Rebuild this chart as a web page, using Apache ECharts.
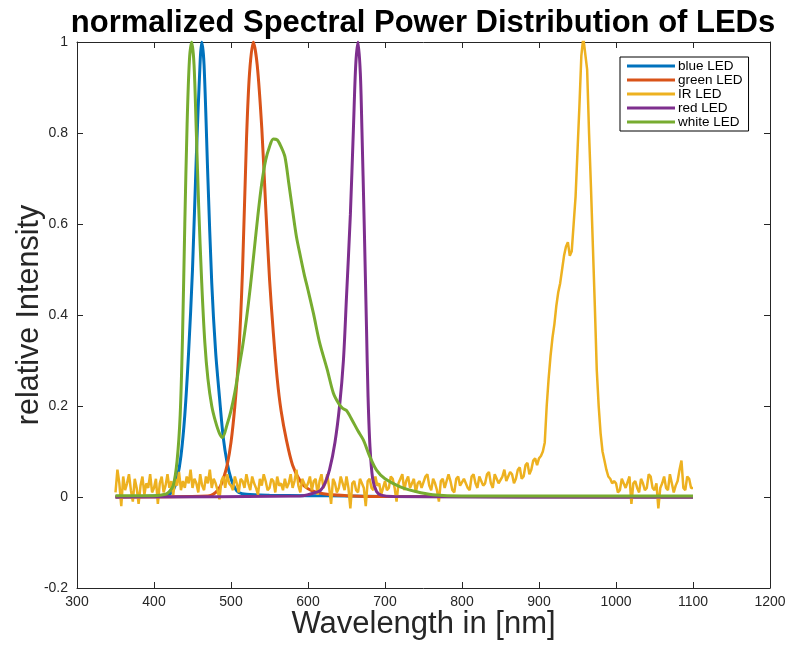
<!DOCTYPE html>
<html>
<head>
<meta charset="utf-8">
<script src="https://cdn.jsdelivr.net/npm/echarts@6/dist/echarts.min.js"></script>
<style>
  html, body { margin: 0; padding: 0; background: #fff; }
  #chart { width: 787px; height: 645px; }
</style>
</head>
<body>
<div id="chart"></div>
<script>
// wavelength [nm] / normalized intensity
const blueWl  = [350, 400, 420, 425, 430, 435, 440, 445, 450, 455, 460, 462, 465, 470, 475, 480, 485, 490, 495, 500, 505, 510, 520, 550, 600, 650, 700, 1100]
const blueVal = [0, 0.002, 0.006, 0.015, 0.04, 0.09, 0.18, 0.32, 0.5, 0.75, 0.96, 1.0, 0.95, 0.7, 0.47, 0.32, 0.22, 0.13, 0.075, 0.04, 0.02, 0.01, 0.006, 0.004, 0.003, 0.002, 0.001, 0]

const greenWl  = [350, 470, 480, 486, 490, 495, 500, 505, 510, 515, 520, 524, 529, 534, 540, 545, 550, 555, 560, 565, 572, 580, 590, 600, 620, 650, 700, 1100]
const greenVal = [0, 0.002, 0.01, 0.023, 0.04, 0.07, 0.12, 0.2, 0.31, 0.5, 0.78, 0.93, 1.0, 0.95, 0.81, 0.64, 0.48, 0.36, 0.26, 0.19, 0.125, 0.07, 0.035, 0.018, 0.007, 0.003, 0.001, 0]

const redWl  = [350, 590, 600, 610, 616, 622, 628, 635, 641, 646, 650, 655, 659, 662, 665, 668, 670, 673, 676, 678, 680.5, 684, 689, 695, 710, 1100]
const redVal = [0, 0.002, 0.005, 0.01, 0.014, 0.03, 0.06, 0.12, 0.2, 0.3, 0.44, 0.62, 0.81, 0.95, 1.0, 0.93, 0.81, 0.6, 0.37, 0.22, 0.11, 0.04, 0.012, 0.004, 0.001, 0]

const whiteWl  = [350, 400, 415, 420, 425, 430, 434, 437, 440, 443, 446, 449, 452, 455, 458, 462, 466, 470, 475, 480, 485, 489, 495, 500, 505, 510, 515, 520, 525, 530, 535, 540, 545, 550, 555, 560, 565, 570, 575, 580, 585, 590, 595, 600, 607, 615, 625, 633, 640, 645, 650, 657, 665, 672, 680, 689, 700, 719, 740, 762, 800, 1100]
const whiteVal = [0.003, 0.003, 0.006, 0.012, 0.025, 0.08, 0.18, 0.35, 0.6, 0.82, 0.96, 1.0, 0.95, 0.8, 0.64, 0.47, 0.34, 0.26, 0.2, 0.165, 0.14, 0.131, 0.16, 0.19, 0.23, 0.28, 0.33, 0.39, 0.46, 0.54, 0.62, 0.69, 0.74, 0.77, 0.787, 0.785, 0.77, 0.748, 0.69, 0.63, 0.572, 0.53, 0.49, 0.455, 0.404, 0.34, 0.28, 0.228, 0.205, 0.195, 0.19, 0.17, 0.145, 0.125, 0.09, 0.059, 0.04, 0.023, 0.012, 0.005, 0.002, 0.002]

// IR LED sampled every 2.5 nm from 350 to 1100
const irStart = 350
const irStep = 2.5
const irVal = [
  0.01, 0.06, 0.03, -0.02, 0.045, 0.015, 0.03, 0.05, 0.015, -0.01, 0.04, 0.02, -0.015, 0.025, 0.045, 0.005, 0.03, 0.02, 0.05, 0.01,
  0.02, 0.04, -0.015, 0.03, 0.045, 0.01, 0.025, 0.05, 0.02, 0.035, 0.005, 0.04, 0.025, 0.055, 0.015, 0.035, 0.02, 0.045, 0.03, 0.06,
  0.02, 0.04, 0.03, 0.01, 0.05, 0.025, 0.015, 0.045, 0.03, 0.06, 0.02, 0.04, 0.03, 0.015, -0.005, 0.035, 0.045, 0.02, 0.05, 0.03,
  0.025, 0.015, 0.045, 0.03, 0.01, 0.04, 0.035, 0.02, 0.05, 0.03, 0.015, 0.045, 0.03, 0.02, 0.005, 0.04, 0.025, 0.05, 0.035, 0.015,
  0.02, 0.04, 0.035, 0.01, 0.045, 0.025, 0.03, 0.015, 0.04, 0.02, 0.03, 0.05, 0.02, 0.035, 0.06, 0.025, 0.01, 0.04, 0.03, 0.02,
  0.03, 0.045, 0.015, 0.035, 0.04, 0.005, 0.035, 0.05, 0.02, 0.03, 0.05, 0.02, -0.015, 0.04, 0.03, 0.01, 0.02, 0.045, 0.03, 0.015,
  0.045, 0.02, -0.025, 0.03, 0.035, 0.015, 0.01, 0.04, 0.03, 0.02, -0.02, 0.035, 0.04, 0.02, 0.015, 0.045, 0.025, 0.03, 0.005, 0.02,
  0.035, 0.015, 0.02, 0.045, 0.04, 0.02, -0.01, 0.03, 0.03, 0.05, 0.015, 0.035, 0.045, 0.02, 0.02, 0.04, 0.01, 0.03, 0.035, 0.02,
  0.02, 0.045, 0.05, 0.025, 0.015, 0.04, 0.03, 0.015, -0.01, 0.035, 0.04, 0.02, 0.02, 0.05, 0.035, 0.015, 0.01, 0.04, 0.045, 0.025,
  0.025, 0.04, 0.04, 0.02, 0.015, 0.045, 0.05, 0.03, 0.02, 0.045, 0.035, 0.025, 0.03, 0.05, 0.055, 0.03, 0.02, 0.05, 0.04, 0.03,
  0.03, 0.045, 0.06, 0.035, 0.035, 0.055, 0.05, 0.03, 0.04, 0.06, 0.065, 0.04, 0.045, 0.07, 0.075, 0.05, 0.06, 0.08, 0.085, 0.07,
  0.085, 0.09, 0.1, 0.12, 0.2, 0.26, 0.31, 0.35, 0.38, 0.42, 0.45, 0.47, 0.5, 0.53, 0.55, 0.56, 0.53, 0.54, 0.6, 0.66,
  0.76, 0.86, 0.97, 1.01, 1.01, 0.94, 0.8, 0.68, 0.55, 0.42, 0.28, 0.2, 0.14, 0.1, 0.08, 0.06, 0.045, 0.04, 0.03, 0.035,
  0.03, 0.01, 0.015, 0.04, 0.04, 0.02, 0.02, 0.045, -0.015, 0.03, 0.035, 0.02, 0.01, 0.04, 0.03, 0.015, 0.02, 0.05, 0.045, 0.02,
  0.015, 0.03, -0.025, 0.02, 0.03, 0.045, 0.02, 0.015, 0.05, 0.03, 0.01, 0.025, 0.035, 0.06, 0.08, 0.02, 0.015, 0.045, 0.04, 0.02,
  0.02
]

const seriesNames = ['blue LED', 'green LED', 'IR LED', 'red LED', 'white LED']
const seriesColors = ['#0072BD', '#D95319', '#EDB120', '#7E2F8E', '#77AC30']

function zip(xs, ys) {
  return xs.map((x, i) => [x, ys[i]])
}

const irData = irVal.map((v, i) => [irStart + i * irStep, v])
const allData = [
  zip(blueWl, blueVal),
  zip(greenWl, greenVal),
  irData,
  zip(redWl, redVal),
  zip(whiteWl, whiteVal)
]

const font = 'Liberation Sans, Arial, Helvetica, sans-serif'
const axisColor = '#262626'

let chart = echarts.init(document.getElementById('chart'))

let xCommon = {
  type: 'value', min: 300, max: 1200, interval: 100,
  axisLine: { show: true, onZero: false, lineStyle: { color: axisColor, width: 1 } },
  axisTick: { show: true, inside: true, length: 6, lineStyle: { color: axisColor } },
  splitLine: { show: false }
}
let yCommon = {
  type: 'value', min: -0.2, max: 1, interval: 0.2,
  axisLine: { show: true, onZero: false, lineStyle: { color: axisColor, width: 1 } },
  axisTick: { show: true, inside: true, length: 6, lineStyle: { color: axisColor } },
  splitLine: { show: false }
}

chart.setOption({
  animation: false,
  backgroundColor: '#fff',
  title: {
    text: 'normalized Spectral Power Distribution of LEDs',
    left: 418,
    top: 3,
    textAlign: 'center',
    textStyle: { fontFamily: font, fontSize: 31, fontWeight: 'bold', color: '#000' }
  },
  grid: { left: 77, right: 17, top: 42, bottom: 57, containLabel: false, outerBoundsMode: 'none' },
  legend: {
    data: seriesNames,
    orient: 'vertical',
    left: 620,
    top: 57,
    icon: 'rect',
    itemWidth: 48,
    itemHeight: 3,
    itemGap: 0,
    padding: [2, 6, 2, 7],
    borderColor: '#000',
    borderWidth: 1,
    backgroundColor: '#fff',
    textStyle: { fontFamily: font, fontSize: 13.5, color: '#000', lineHeight: 13, padding: [0, 0, 0, -2] }
  },
  xAxis: [
    Object.assign({}, xCommon, {
      position: 'bottom',
      name: 'Wavelength in [nm]',
      nameLocation: 'middle',
      nameGap: 21,
      nameMoveOverlap: false,
      nameTextStyle: { fontFamily: font, fontSize: 31, color: axisColor, verticalAlign: 'top' },
      axisLabel: { fontFamily: font, fontSize: 14, color: axisColor, margin: 7, formatter: v => String(v) }
    }),
    Object.assign({}, xCommon, { position: 'top', axisLabel: { show: false } })
  ],
  yAxis: [
    Object.assign({}, yCommon, {
      position: 'left',
      name: 'relative Intensity',
      nameLocation: 'middle',
      nameGap: 32,
      nameMoveOverlap: false,
      nameTextStyle: { fontFamily: font, fontSize: 30.5, color: axisColor },
      axisLabel: {
        fontFamily: font, fontSize: 14, color: axisColor, margin: 9,
        formatter: v => String(+v.toFixed(1))
      }
    }),
    Object.assign({}, yCommon, { position: 'right', axisLabel: { show: false } })
  ],
  series: allData.map((d, i) => {
    return {
      name: seriesNames[i],
      type: 'line',
      data: d,
      xAxisIndex: 0,
      yAxisIndex: 0,
      showSymbol: false,
      symbol: 'none',
      smooth: i === 2 ? false : 0.3,
      color: seriesColors[i],
      lineStyle: { width: i === 2 ? 2.5 : 3, color: seriesColors[i] },
      z: 2 + i
    }
  })
})
</script>
</body>
</html>
